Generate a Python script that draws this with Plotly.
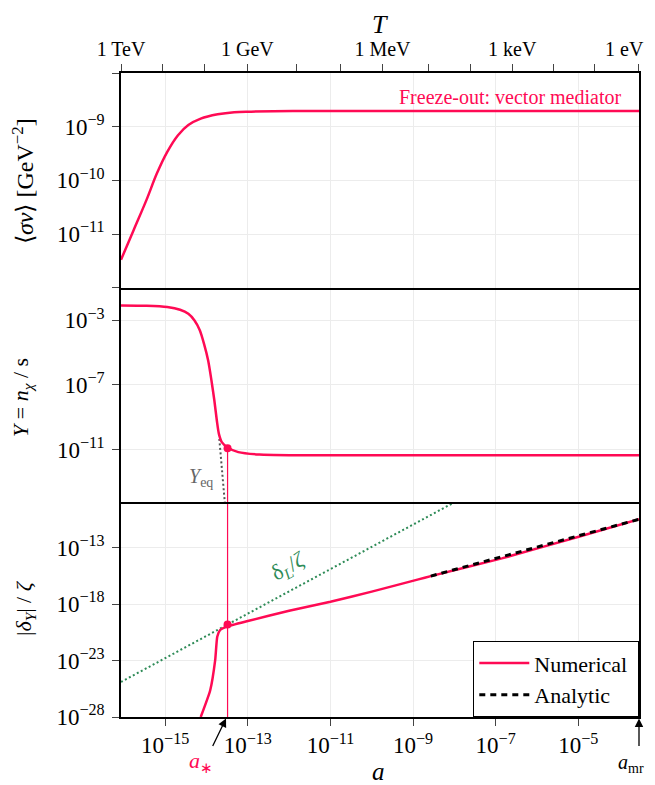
import numpy as np
import plotly.graph_objects as go

# ---------------- data (log10 values) ----------------
# top panel: <sigma v>
sig_loga = [-16.07, -15.76, -15.45, -15.20, -14.95, -14.69, -14.44, -14.14, -13.73, -13.33, -12.92, -11.91, -8.0, -3.53]
sig_logv = [-11.48, -10.92, -10.36, -9.87, -9.47, -9.16, -8.97, -8.85, -8.77, -8.73, -8.72, -8.71, -8.71, -8.71]

# middle panel: Y = n/s
Y_loga = [-16.07, -15.45, -14.95, -14.64, -14.44, -14.29, -14.16, -14.06, -13.96, -13.88, -13.81, -13.75,
          -13.70, -13.63, -13.48, -13.23, -12.72, -11.91, -8.0, -3.53]
Y_logv = [-2.07, -2.09, -2.17, -2.34, -2.59, -3.0, -3.62, -4.45, -5.48, -6.72, -7.96, -9.2,
          -10.03, -10.54, -10.89, -11.16, -11.31, -11.35, -11.35, -11.35]

# Y_eq
Yeq_loga = [-13.69, -13.63, -13.59, -13.55]
Yeq_logv = [-10.34, -11.89, -13.13, -14.5]

# bottom panel: |delta_Y| / zeta (numerical)
dY_loga = [-14.14, -13.91, -13.79, -13.74, -13.67, -13.51, -13.0, -12.0, -11.0, -10.0, -8.87, -8.57, -6.85, -4.99, -3.53]
dY_logv = [-28.0, -25.63, -22.97, -20.9, -20.3, -20.0, -19.5, -18.6, -17.8, -16.9, -15.82, -15.53, -13.96, -12.04, -10.5]

# analytic
an_loga = [-8.57, -3.53]
an_logv = [-15.53, -10.5]

# delta_L / zeta
dL_loga = [-16.07, -8.0]
dL_logv = [-24.9, -9.0]

# a_* and freeze-out points
a_star_log = -13.49
Y_star_log = -10.92
d_star_log = -19.82

# ticks
x_tickexp = [-15, -13, -11, -9, -7, -5]
T_tick_loga = [-16.069, -15.07, -14.05, -13.01, -11.81, -10.75, -9.74, -8.63, -7.6, -6.6, -5.6, -4.6, -3.532]
T_tick_text = ["1 TeV", "", "", "1 GeV", "", "", "1 MeV", "", "", "1 keV", "", "", ""]
T_last_label = "1 eV"
y1_tickexp = [-12, -11, -10, -9, -8]
y1_labeled = [-11, -10, -9]
y2_tickexp = [-11, -7, -3]
y3_tickexp = [-28, -23, -18, -13]

XRANGE = [-16.07, -3.53]

CRIM = "#ff0a54"
GREEN = "#2e8b57"
GRAY = "#555555"
FONT = "Liberation Serif"


def p(v):
    return np.power(10.0, np.array(v, dtype=float))


def sup(e):
    return "10<sup>\u2212%d</sup>" % abs(e)


fig = go.Figure()

# top panel
fig.add_trace(go.Scatter(x=p(sig_loga), y=p(sig_logv), mode="lines", line=dict(color=CRIM, width=2.5, shape="spline", smoothing=1.0),
                         xaxis="x3", yaxis="y", showlegend=False))
# dummy for top T axis
fig.add_trace(go.Scatter(x=[1e-10], y=[1e-10], mode="markers", marker=dict(opacity=0), xaxis="x4", yaxis="y",
                         showlegend=False, hoverinfo="skip"))

# middle panel
fig.add_trace(go.Scatter(x=p(Yeq_loga), y=p(Yeq_logv), mode="lines", line=dict(color=GRAY, width=2, dash="2px,2.5px"),
                         xaxis="x2", yaxis="y2", showlegend=False))
fig.add_trace(go.Scatter(x=p(Y_loga), y=p(Y_logv), mode="lines", line=dict(color=CRIM, width=2.5, shape="spline", smoothing=0.7),
                         xaxis="x2", yaxis="y2", showlegend=False))
fig.add_trace(go.Scatter(x=p([a_star_log, a_star_log]), y=p([Y_star_log, -40]), mode="lines", line=dict(color=CRIM, width=1.2),
                         xaxis="x2", yaxis="y2", showlegend=False))
fig.add_trace(go.Scatter(x=p([a_star_log]), y=p([Y_star_log]), mode="markers", marker=dict(color=CRIM, size=8),
                         xaxis="x2", yaxis="y2", showlegend=False))

# bottom panel
fig.add_trace(go.Scatter(x=p(dL_loga), y=p(dL_logv), mode="lines", line=dict(color=GREEN, width=2, dash="2px,2.5px"),
                         xaxis="x", yaxis="y3", showlegend=False))
fig.add_trace(go.Scatter(x=p([a_star_log, a_star_log]), y=p([-40, 0]), mode="lines", line=dict(color=CRIM, width=1.2),
                         xaxis="x", yaxis="y3", showlegend=False))
fig.add_trace(go.Scatter(x=p(dY_loga), y=p(dY_logv), mode="lines", line=dict(color=CRIM, width=2.5, shape="spline", smoothing=0.5),
                         xaxis="x", yaxis="y3", name="Numerical\u00a0", showlegend=True))
fig.add_trace(go.Scatter(x=p(an_loga), y=p(an_logv), mode="lines", line=dict(color="black", width=3, dash="6px,5px"),
                         xaxis="x", yaxis="y3", name="Analytic", showlegend=True))
fig.add_trace(go.Scatter(x=p([a_star_log]), y=p([d_star_log]), mode="markers", marker=dict(color=CRIM, size=8),
                         xaxis="x", yaxis="y3", showlegend=False))

LW = 1.6
grid = dict(showgrid=True, gridcolor="#ececec", gridwidth=1, zeroline=False)
tickf = dict(family=FONT, size=23, color="black")

xbase = dict(type="log", range=XRANGE, tickvals=list(p(x_tickexp)), showline=True, linecolor="black",
             linewidth=LW, mirror=False, automargin=False, **grid)
ybase = dict(type="log", showline=True, linecolor="black", linewidth=LW, mirror=True, ticks="outside",
             ticklen=7, tickwidth=1.4, tickfont=tickf, ticklabelstandoff=3, automargin=False, **grid)

fig.update_layout(
    width=647, height=777,
    margin=dict(l=113, r=16, t=65, b=68, autoexpand=False),
    paper_bgcolor="white", plot_bgcolor="white",
    font=dict(family=FONT, size=18, color="black"),
    xaxis=dict(domain=[0, 1], anchor="y3", ticks="outside", ticklen=7, tickwidth=1.4,
               ticktext=[sup(e) for e in x_tickexp], tickfont=tickf, **xbase),
    xaxis2=dict(domain=[0, 1], anchor="y2", ticks="", showticklabels=False, ticktext=[""] * 6, **xbase),
    xaxis3=dict(domain=[0, 1], anchor="y", ticks="", showticklabels=False, ticktext=[""] * 6, **xbase),
    xaxis4=dict(domain=[0, 1], anchor="y", overlaying="x3", side="top", type="log", range=XRANGE,
                tickvals=list(p(T_tick_loga)), ticktext=T_tick_text, ticks="outside", ticklen=7, tickwidth=1.4,
                showgrid=False, zeroline=False, showline=True, linecolor="black", linewidth=LW,
                automargin=False, tickfont=dict(family=FONT, size=20, color="black")),
    yaxis=dict(domain=[2 / 3, 1], anchor="x3", range=[-12, -8], tickvals=list(p(y1_tickexp)),
               ticktext=[sup(e) if e in y1_labeled else "" for e in y1_tickexp], **ybase),
    yaxis2=dict(domain=[1 / 3, 2 / 3], anchor="x2", range=[-14.27, -0.97], tickvals=list(p(y2_tickexp)),
                ticktext=[sup(e) for e in y2_tickexp], **ybase),
    yaxis3=dict(domain=[0, 1 / 3], anchor="x", range=[-28, -9], tickvals=list(p(y3_tickexp)),
                ticktext=[sup(e) for e in y3_tickexp], **ybase),
    legend=dict(x=1, y=0, xanchor="right", yanchor="bottom", bgcolor="white", bordercolor="black", borderwidth=1.3,
                font=dict(family=FONT, size=22, color="black"), itemwidth=50, tracegroupgap=4),
    showlegend=True,
)


# helpers: page pixel (reference) -> paper coordinates of the plot area (121..639, 73..717)
def px(xp):
    return (xp - 121) / 518.0


def py(yp):
    return (717 - yp) / 644.0


ann = [
    dict(text="<i>T</i>", x=px(380), y=py(24), font=dict(size=26)),
    dict(text="<i>a</i>", x=px(378), y=py(771), font=dict(size=25)),
    dict(text=T_last_label, x=px(646), y=py(49), xanchor="right", font=dict(size=20)),
    dict(text="Freeze-out: vector mediator", x=px(623), y=py(97), xanchor="right", font=dict(size=20, color=CRIM)),
    dict(text="\u27e8<i>\u03c3v</i>\u27e9 [GeV<sup>\u22122</sup>]", x=px(23), y=py(181), textangle=-90, font=dict(size=24)),
    dict(text="<i>Y</i> = <i>n<sub>\u03c7</sub></i> / s", x=px(22), y=py(398), textangle=-90, font=dict(size=22)),
    dict(text="|<i>\u03b4<sub>Y</sub></i>| / <i>\u03b6</i>", x=px(25), y=py(608), textangle=-90, font=dict(size=22)),
    dict(text="<i>Y</i><sub>eq</sub>", x=px(201), y=py(478), font=dict(size=20, color="#666666")),
    dict(text="\u03b4<sub><i>L</i></sub>/<i>\u03b6</i>", x=px(289), y=py(567), textangle=-29, font=dict(size=22, color=GREEN)),
    dict(text="<i>a</i><sub>\u2217</sub>", x=px(201), y=py(762), font=dict(size=22, color=CRIM)),
    dict(text="<i>a</i><sub>mr</sub>", x=px(646), y=py(763), xanchor="right", font=dict(size=20)),
]
for a in ann:
    a.setdefault("xanchor", "center")
    a.update(xref="paper", yref="paper", showarrow=False, yanchor="middle")
    fig.add_annotation(**a)

# arrows
fig.add_annotation(xref="paper", yref="paper", x=px(226), y=py(718.5), text="", showarrow=True,
                   ax=-14, ay=29, arrowhead=2, arrowsize=1.3, arrowwidth=1.3, arrowcolor="black")
fig.add_annotation(xref="paper", yref="paper", x=px(639), y=py(718.5), text="", showarrow=True,
                   ax=0, ay=29, arrowhead=2, arrowsize=1.3, arrowwidth=1.3, arrowcolor="black")

fig.write_html("out.html")
